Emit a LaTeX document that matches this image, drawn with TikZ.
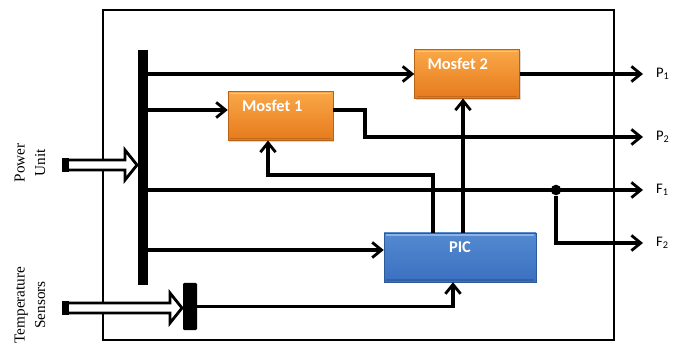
\documentclass[tikz,border=0pt]{standalone}
\usepackage{fontspec}
\setmainfont{Liberation Serif}
\newfontfamily\boxfont{Carlito}
\usetikzlibrary{arrows.meta,calc,shadows}

\definecolor{mosfettop}{RGB}{250,168,72}
\definecolor{mosfetbot}{RGB}{230,122,28}
\definecolor{pictop}{RGB}{84,138,208}
\definecolor{picbot}{RGB}{58,112,192}

\tikzset{
  wire/.style={line width=2.8pt},
  arr/.style={wire,-{Straight Barb[length=8pt,width=13pt,line width=2.4pt]}},
  frame/.style={line width=2.2pt},
  busbar/.style={fill=black, inner sep=0pt, minimum width=0.3cm},
  hollow/.style={draw, fill=white, line width=2.4pt, line join=miter},
  block/.style={inner sep=0pt, drop shadow={opacity=0.3,shadow xshift=1.2pt,shadow yshift=-1.2pt},
    path picture={
      \draw[white, opacity=0.35, line width=1.5pt] ([shift={(2pt,-1.5pt)}]path picture bounding box.north west) -- ([shift={(-2pt,-1.5pt)}]path picture bounding box.north east);
      \draw[black, opacity=0.15, line width=1.5pt] ([shift={(2pt,1.5pt)}]path picture bounding box.south west) -- ([shift={(-2pt,1.5pt)}]path picture bounding box.south east);
    }},
  mosfet/.style={block, draw=mosfetbot!80!black, line width=0.4pt,
    top color=mosfettop, bottom color=mosfetbot, minimum width=3.15cm, minimum height=1.46cm},
  picbox/.style={block, draw=picbot!80!black, line width=0.4pt,
    top color=pictop, bottom color=picbot, minimum width=4.56cm, minimum height=1.47cm},
  boxtext/.style={anchor=north, inner sep=7.5pt, text=white, font=\boxfont\bfseries\fontsize{14}{16}\selectfont},
  outlabel/.style={anchor=west, inner xsep=11pt, inner ysep=1pt, font=\boxfont\fontsize{12.5}{14}\selectfont},
  sidelabel/.style={rotate=90, align=center, font=\fontsize{13}{17.5}\selectfont},
  dot/.style={circle, fill=black, inner sep=0pt, minimum size=9pt}
}

\begin{document}
\begin{tikzpicture}[x=0.03cm, y=-0.03cm]
\useasboundingbox (0,0) rectangle (682,347);

\draw [frame] (103,10) rectangle (614,340);

% bars
\node [busbar, minimum height=7.05cm] (bus) at (143,167.5) {};
\node [busbar, minimum width=0.42cm, minimum height=1.41cm, rounded corners=1pt] (tbar) at (190,306.5) {};

% blocks
\node [mosfet, label={[boxtext, xshift=-0.25cm]north:Mosfet 1}] (m1) at (280.5,116) {};
\node [mosfet, label={[boxtext, xshift=-0.28cm]north:Mosfet 2}] (m2) at (467,74) {};
\node [picbox, label={[boxtext]north:PIC}] (pic) at (460,257.5) {};

% outputs
\node [outlabel] (p1) at (643,74) {P\textsubscript{1}};
\node [outlabel] (p2) at (643,137) {P\textsubscript{2}};
\node [outlabel] (f1) at (643,190) {F\textsubscript{1}};
\node [outlabel] (f2) at (643,243) {F\textsubscript{2}};
\node [dot] (split) at (556,190) {};

% inputs
\node [sidelabel] (power) at (30,163) {Power\\Unit};
\node [sidelabel] (temp) at (30,305) {Temperature\\Sensors};
\draw [hollow] (66,160) -- (125,160) -- (125,150) -- (137,165) -- (125,180) -- (125,170) -- (66,170) -- cycle;
\fill (62,158) rectangle (69,172);
\draw [hollow] (66,303) -- (170,303) -- (170,293) -- (182,308) -- (170,323) -- (170,313) -- (66,313) -- cycle;
\fill (62,301) rectangle (69,315);

\coordinate (m1in) at ($(m1.west)+(0,-6)$);
\coordinate (m1out) at ($(m1.east)+(0,-6)$);
\coordinate (picin) at ($(pic.west)+(0,-7.5)$);
\coordinate (p2bend) at (365,137);
\coordinate (fb) at (268,175);
\coordinate (picup) at ($(pic.north)+(3,0)$);
\coordinate (tempin) at ($(pic.south)+(-7,0)$);

% connections
\draw [arr] (bus.east |- m2.west) -- (m2.west);
\draw [arr] (bus.east |- m1in) -- (m1in);
\draw [arr] (bus.east |- split) -- (f1.west);
\draw [arr] (bus.east |- picin) -- (picin);
\draw [arr] (m2.east) -- (p1.west);
\draw [arr] (m1out) -| (p2bend) -- (p2.west);
\draw [arr] (split) |- (f2.west);
\draw [arr] ($(pic.north)+(-27,0)$) |- (fb) -- (fb |- m1.south);
\draw [arr] (picup) -- (picup |- m2.south);
\draw [arr] (tbar.east) -| (tempin);
\end{tikzpicture}
\end{document}
